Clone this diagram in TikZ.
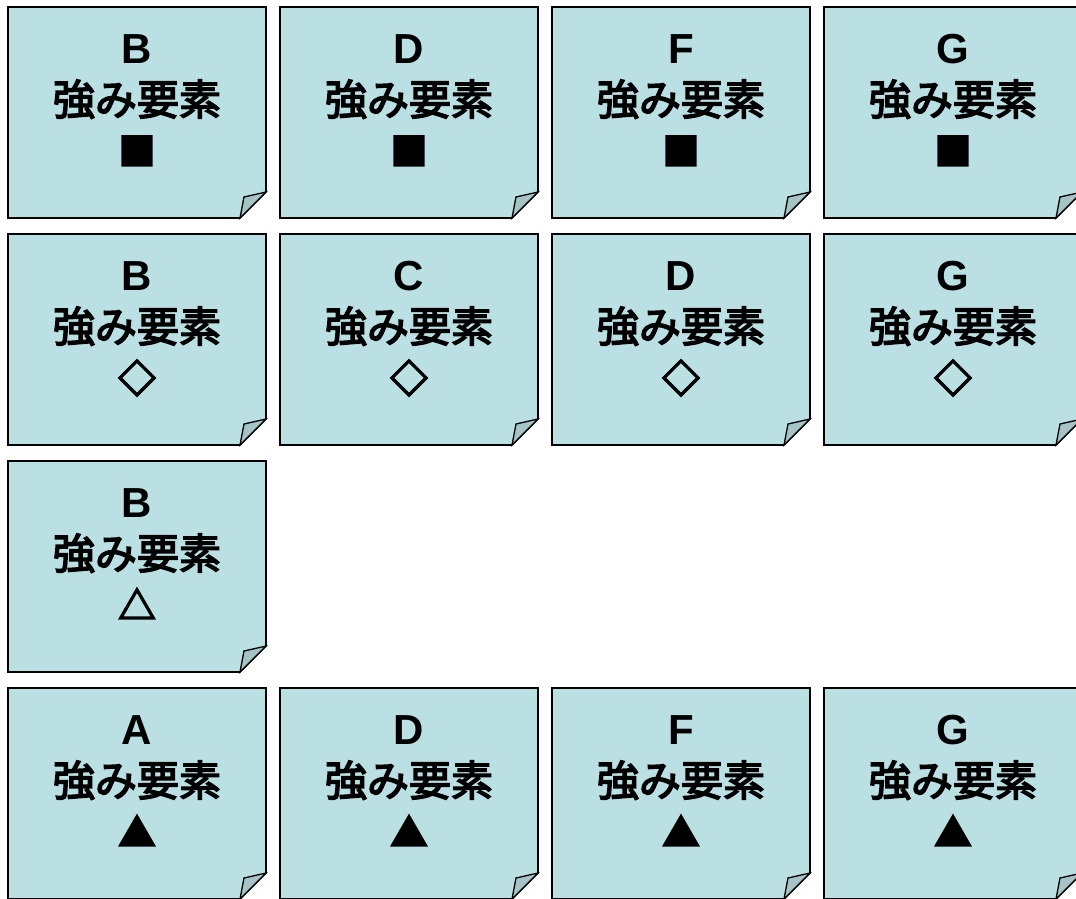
\documentclass[tikz,border=0pt]{standalone}
\usepackage{fontspec}
\setmainfont{Liberation Sans}
\newfontfamily\jp[FakeBold=3.5]{Noto Sans CJK JP}
\newfontfamily\jpsym[FakeBold=5]{Noto Sans CJK JP}
\definecolor{notefill}{RGB}{187,224,227}
\definecolor{foldfill}{RGB}{166,196,198}
\tikzset{
  notebox/.style={minimum width=258pt,minimum height=211pt,inner sep=0pt,outer sep=0pt},
  noteline/.style={draw=black,line width=1.6pt,line join=miter},
  notetext/.style={font=\fontsize{42}{50}\selectfont,align=center,inner sep=0pt,text depth=0pt},
  notesym/.style={font=\fontsize{37}{44}\selectfont,align=center,inner sep=0pt,text depth=0pt},
}
\newcommand{\stickynote}[5]{%
  \node[notebox,anchor=north west] (#1) at (#2,#3) {};
  \draw[noteline,fill=notefill] (#1.north west) -- (#1.north east)
     -- ([yshift=26pt]#1.south east) -- ([xshift=-26pt]#1.south east)
     -- (#1.south west) -- cycle;
  \draw[noteline,fill=foldfill,line width=1.3pt] ([xshift=-26pt]#1.south east)
     .. controls ([xshift=-24pt,yshift=10pt]#1.south east) .. ([xshift=-22pt,yshift=21pt]#1.south east)
     -- ([yshift=26pt]#1.south east) -- cycle;
  \node[notetext,anchor=base] (#1-l) at ([yshift=-56pt]#1.north) {\bfseries #4};
  \node[notetext,anchor=base] (#1-k) at ([yshift=-108pt]#1.north) {\jp 強み要素};
  \node[notesym,anchor=base] (#1-s) at ([yshift=-158pt]#1.north) {\jpsym #5};
}
\begin{document}
\begin{tikzpicture}[x=1pt,y=-1pt]
\useasboundingbox (0,0) rectangle (1076,898);
\clip (0,0) rectangle (1076,898);
\stickynote{n11}{8}{7}{B}{■}
\stickynote{n12}{280}{7}{D}{■}
\stickynote{n13}{552}{7}{F}{■}
\stickynote{n14}{824}{7}{G}{■}
\stickynote{n21}{8}{234}{B}{◇}
\stickynote{n22}{280}{234}{C}{◇}
\stickynote{n23}{552}{234}{D}{◇}
\stickynote{n24}{824}{234}{G}{◇}
\stickynote{n31}{8}{461}{B}{△}
\stickynote{n41}{8}{688}{A}{▲}
\stickynote{n42}{280}{688}{D}{▲}
\stickynote{n43}{552}{688}{F}{▲}
\stickynote{n44}{824}{688}{G}{▲}
\end{tikzpicture}
\end{document}
